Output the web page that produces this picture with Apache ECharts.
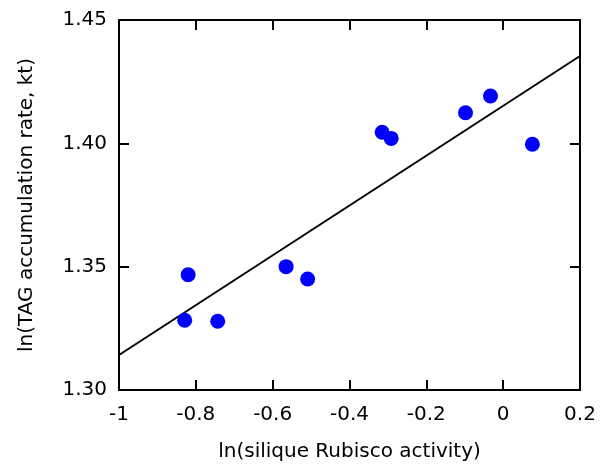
<!DOCTYPE html>
<html>
<head>
<meta charset="utf-8">
<script src="https://cdn.jsdelivr.net/npm/echarts@6/dist/echarts.min.js"></script>
<style>
  html, body { margin: 0; padding: 0; background: #fff; }
  #chart { width: 600px; height: 464px; }
</style>
</head>
<body>
<div id="chart"></div>
<script>
// 散点数据
const rubiscoX = [-0.829, -0.820, -0.743, -0.565, -0.509, -0.315, -0.2915, -0.098, -0.033, 0.076]
const tagY = [1.3283, 1.3467, 1.3279, 1.3500, 1.3450, 1.4045, 1.4020, 1.4124, 1.4192, 1.3996]
// 拟合直线端点
const fitX = [-1, 0.2]
const fitY = [1.3142, 1.4354]

const points = rubiscoX.map((x, i) => [x, tagY[i]])
const fitLine = fitX.map((x, i) => [x, fitY[i]])

const font = 'DejaVu Sans'
const axisLine = { show: true, onZero: false, lineStyle: { color: '#000', width: 2 } }
const tick = { show: true, inside: true, length: 10, lineStyle: { color: '#000', width: 2 } }

let chart = echarts.init(document.getElementById('chart'))
chart.setOption({
    animation: false,
    grid: { left: 119, right: 20, top: 20, bottom: 74, containLabel: false, outerBoundsMode: 'none' },
    xAxis: [{
        type: 'value',
        min: -1, max: 0.2, interval: 0.2,
        name: 'ln(silique Rubisco activity)',
        nameLocation: 'middle',
        nameGap: 52,
        nameTextStyle: { fontFamily: font, fontSize: 20, color: '#000' },
        axisLine: axisLine,
        axisTick: tick,
        axisLabel: { fontFamily: font, fontSize: 20, color: '#000', margin: 15 },
        splitLine: { show: false }
    }, {
        type: 'value', position: 'top',
        min: -1, max: 0.2, interval: 0.2,
        axisLine: axisLine,
        axisTick: tick,
        axisLabel: { show: false },
        splitLine: { show: false }
    }],
    yAxis: [{
        type: 'value',
        min: 1.30, max: 1.45, interval: 0.05,
        name: 'ln(TAG accumulation rate, kt)',
        nameLocation: 'middle',
        nameGap: 82,
        nameTextStyle: { fontFamily: font, fontSize: 20, color: '#000' },
        axisLine: axisLine,
        axisTick: tick,
        axisLabel: { fontFamily: font, fontSize: 20, color: '#000', margin: 12,
            formatter: v => v.toFixed(2) },
        splitLine: { show: false }
    }, {
        type: 'value', position: 'right',
        min: 1.30, max: 1.45, interval: 0.05,
        axisLine: axisLine,
        axisTick: tick,
        axisLabel: { show: false },
        splitLine: { show: false }
    }],
    series: [{
        type: 'line',
        data: fitLine,
        symbol: 'none',
        lineStyle: { color: '#000', width: 2 },
        z: 1
    }, {
        type: 'scatter',
        data: points,
        symbolSize: 15,
        itemStyle: { color: '#0000ff', opacity: 1 },
        z: 2
    }]
})
</script>
</body>
</html>
